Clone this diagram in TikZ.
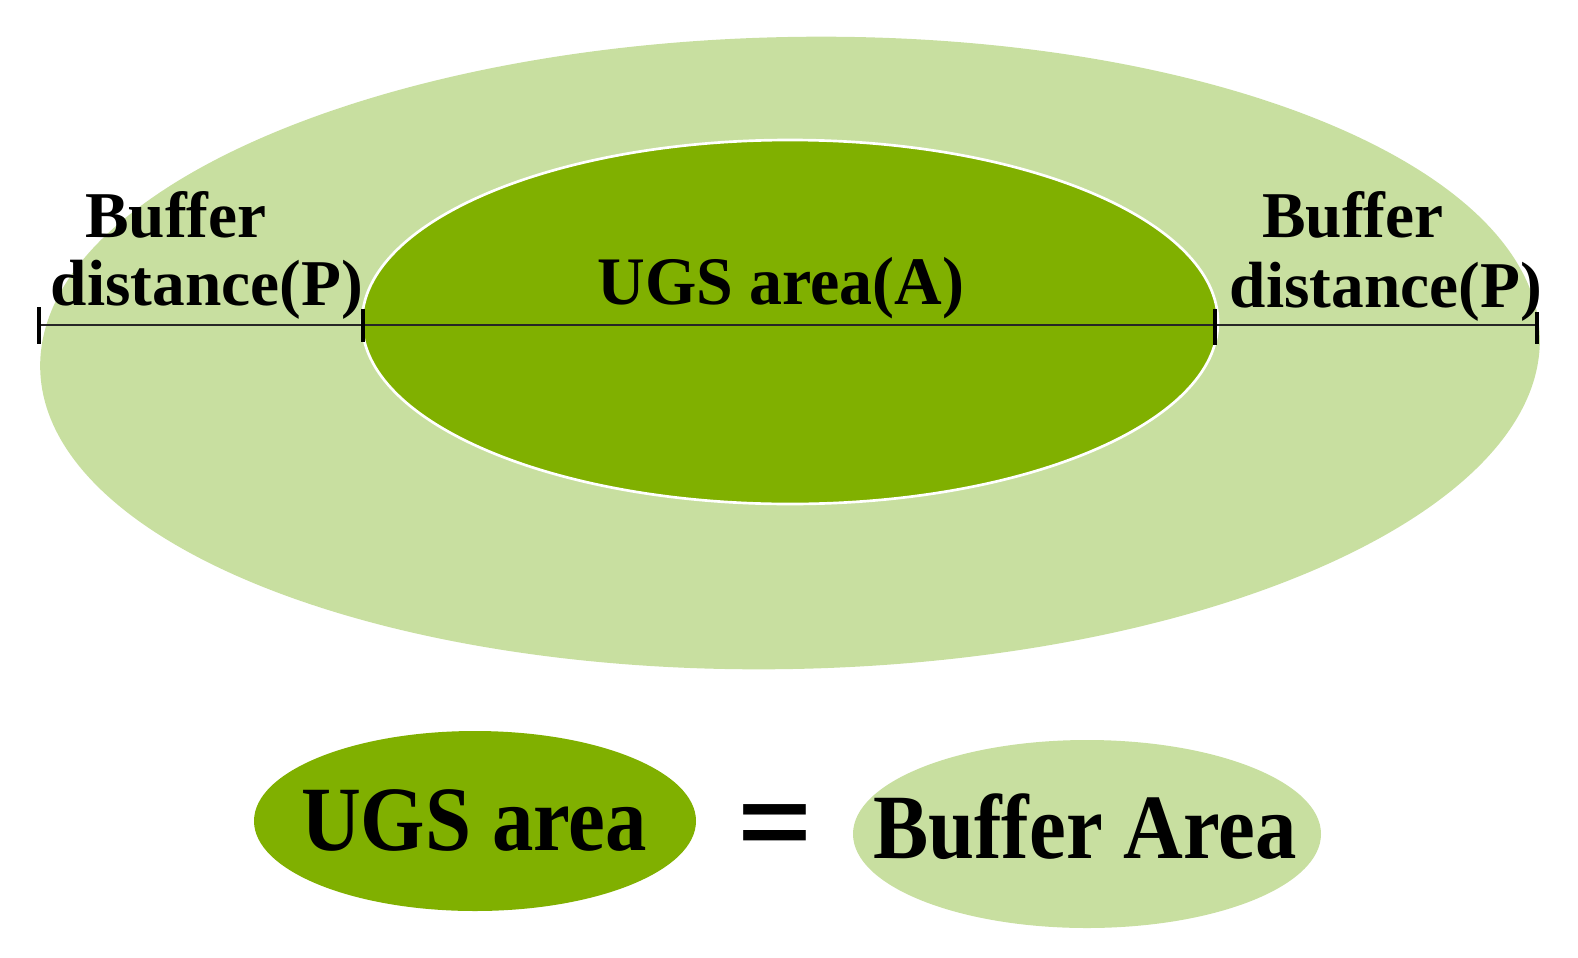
\documentclass[tikz,border=0pt]{standalone}
\usepackage{fontspec}
\setmainfont{Liberation Serif}
\newfontfamily\eqfont{Liberation Sans}
\definecolor{ugsgreen}{RGB}{128,176,0}
\definecolor{buffgreen}{RGB}{200,223,160}
\begin{document}
\begin{tikzpicture}[x=0.75pt,y=-0.75pt,
  lbl/.style={inner sep=0pt, anchor=base, font=\fontsize{49}{58}\selectfont\bfseries},
  bigtxt/.style={inner sep=0pt, anchor=base},
  measure/.style={line width=1.3pt, black!85},
  tickmark/.style={line width=2.6pt, black}]
\useasboundingbox (0,0) rectangle (1578,957);
% outer buffer ellipse
\fill[buffgreen, rotate around={1.2:(790,353)}] (790,353) ellipse [x radius=750, y radius=316];
% inner UGS ellipse
\filldraw[fill=ugsgreen, draw=white, line width=2pt] (790,322) ellipse [x radius=428, y radius=182];
% measure line
\coordinate (L1) at (39,325);
\coordinate (L2) at (363,325);
\coordinate (L3) at (1215,325);
\coordinate (L4) at (1537,325);
\draw[measure] (L1) -- (L4);
\draw[tickmark] (L1) ++(0,-18) -- ++(0,37);
\draw[tickmark] (L2) ++(0,-16) -- ++(0,33);
\draw[tickmark] (L3) ++(0,-16) -- ++(0,36);
\draw[tickmark] (L4) ++(0,-13) -- ++(0,32);
% labels
\node[lbl] (buf1) at (176,237) {Buffer};
\node[lbl] (dist1) at (207,305) {distance(P)};
\node[lbl] (buf2) at (1353,237) {Buffer};
\node[lbl] (dist2) at (1386,307) {distance(P)};
\node[bigtxt] (ugsA) at (781,304) {\scalebox{0.97}[1]{\fontsize{51}{60}\selectfont\bfseries UGS area(A)}};
% bottom equation
\fill[ugsgreen] (475,821) ellipse [x radius=221, y radius=90];
\fill[buffgreen] (1087,834) ellipse [x radius=234, y radius=94];
\node[bigtxt] (ugs) at (474,850) {\scalebox{0.9}[1]{\fontsize{69}{80}\selectfont\bfseries UGS area}};
\node[bigtxt] (buffarea) at (1085,858) {\scalebox{0.9}[1]{\fontsize{69}{80}\selectfont\bfseries Buffer Area}};
\node[inner sep=0pt] (eq) at (775,830) {\scalebox{1.3}[1]{\eqfont\bfseries\fontsize{72}{80}\selectfont =}};
\end{tikzpicture}
\end{document}
